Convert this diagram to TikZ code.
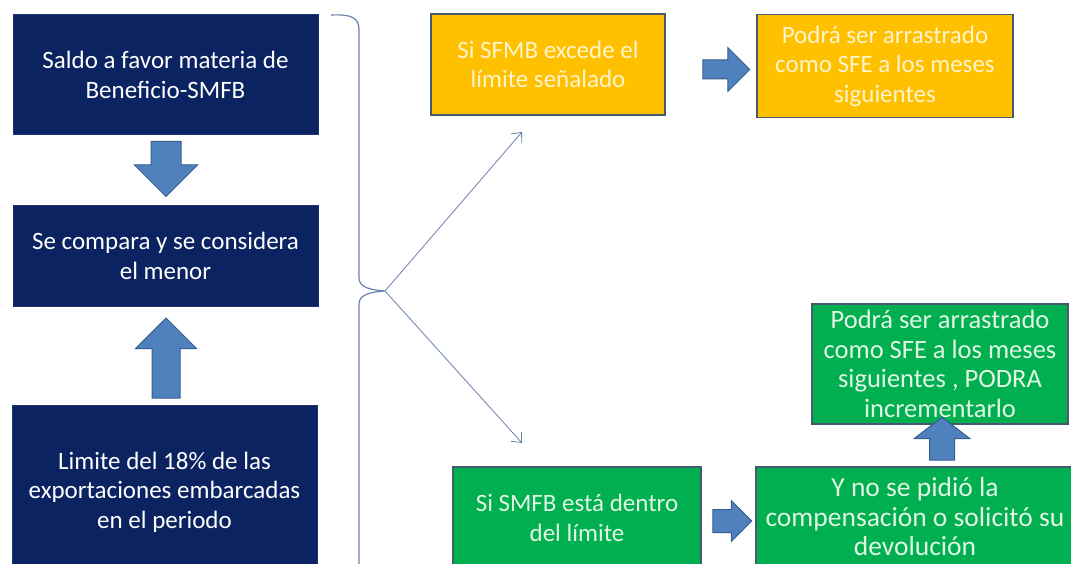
\documentclass[tikz,border=0pt]{standalone}
\usepackage{fontspec}
\setmainfont{Carlito}
\usepackage{tikz}
\usetikzlibrary{shapes.arrows, arrows.meta}
\definecolor{navyfill}{HTML}{0B2360}
\definecolor{navyedge}{HTML}{1C3470}
\definecolor{amberfill}{HTML}{FFC000}
\definecolor{amberText}{HTML}{FFF4CC}
\definecolor{greenfill}{HTML}{00B050}
\definecolor{greenText}{HTML}{E2F6E4}
\definecolor{slateedge}{HTML}{475A6E}
\definecolor{arrowblue}{HTML}{4F81BD}
\definecolor{arrowedge}{HTML}{365F91}
\definecolor{braceblue}{HTML}{6A82AE}
\tikzstyle{txt} = [font=\fontsize{25}{29.5}\selectfont, align=center, text centered, inner sep=0pt]
\tikzstyle{navybox} = [rectangle, txt, minimum width=305pt, draw=navyedge, fill=navyfill, text=white, line width=1pt]
\tikzstyle{amberbox} = [rectangle, txt, draw=slateedge, fill=amberfill, text=amberText, line width=1.5pt]
\tikzstyle{greenbox} = [rectangle, txt, draw=slateedge, fill=greenfill, text=greenText, line width=1.5pt]
\tikzstyle{blockarrow} = [single arrow, draw=arrowedge, fill=arrowblue, line width=1pt, inner xsep=0pt, minimum width=0pt]
\tikzstyle{thinarrow} = [draw=braceblue, line width=0.8pt, -{Straight Barb[length=8pt,width=14pt]}]

\begin{document}
\begin{tikzpicture}[x=1pt,y=-1pt]

\clip (0,0) rectangle (1071,564);
\fill[white] (0,0) rectangle (1071,564);

\node (saldo) [navybox, minimum height=120pt] at (165.5,75) {Saldo a favor materia de\\Beneficio-SMFB};
\node (compara) [navybox, minimum height=100pt] at (165.5,256) {Se compara y se considera\\el menor};
\node (limite) [navybox, minimum height=174pt] at (164.5,492) {Limite del 18\% de las\\exportaciones embarcadas\\en el periodo};

\node (arrdown) [blockarrow, rotate=-90, minimum height=55pt, inner ysep=14.5pt, single arrow head extend=16.5pt] at (166,161.5) {};
\node (arrup) [blockarrow, rotate=90, minimum height=80pt, inner ysep=13.5pt, single arrow head extend=16.5pt] at (166,365) {};

\node (excede) [amberbox, minimum width=234pt, minimum height=101pt] at (548,64.5) {Si SFMB excede el\\límite señalado};
\node (arrastra) [amberbox, minimum width=256pt, minimum height=103pt] at (885,66) {Podrá ser arrastrado\\como SFE a los meses\\siguientes};
\node (arrright1) [blockarrow, minimum height=47pt, inner ysep=9pt, single arrow head extend=12.5pt] at (721.5,69.5) {};

\node (dentro) [greenbox, minimum width=248pt, minimum height=102pt] at (577,518) {Si SMFB está dentro\\del límite};
\node (nopidio) [greenbox, font=\fontsize{27.5}{29.5}\selectfont, minimum width=318pt, minimum height=100pt] at (915,517) {Y no se pidió la\\compensación o solicitó su\\devolución};
\node (incrementa) [greenbox, font=\fontsize{26.5}{29.5}\selectfont, minimum width=256pt, minimum height=120pt] at (940,364) {Podrá ser arrastrado\\como SFE a los meses\\siguientes , PODRA\\incrementarlo};
\node (arrright2) [blockarrow, minimum height=39pt, inner ysep=11pt, single arrow head extend=9pt] at (726.5,521) {};
\node (arrup2) [blockarrow, rotate=90, minimum height=43pt, inner ysep=12pt, single arrow head extend=15.5pt, single arrow tip angle=105] at (942,443.5) {};

% brace and its two branches
\coordinate (tip) at (385,291);
\coordinate (upend) at (522,132);
\coordinate (downend) at (522,443);
\draw[braceblue, line width=1.2pt] (331,15) .. controls (352,14) and (359,18) .. (359,30) -- (359,278)
    .. controls (359,288) and (372,290) .. (tip) .. controls (372,292) and (359,294) .. (359,304) -- (359,570);
\draw[thinarrow] (tip) -- (upend);
\draw[thinarrow] (tip) -- (downend);

\end{tikzpicture}
\end{document}
